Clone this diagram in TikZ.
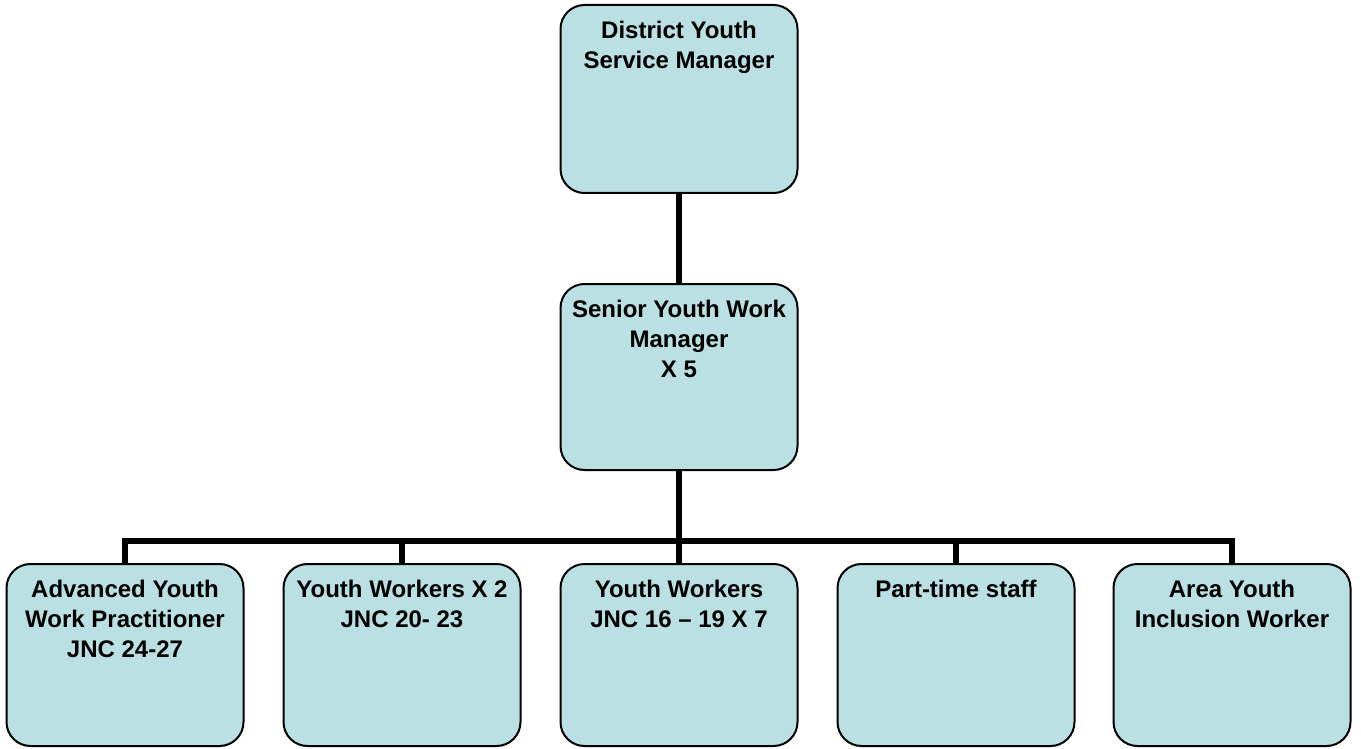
\documentclass[tikz,border=0pt]{standalone}
\usepackage{fontspec}
\setmainfont{Liberation Sans}
\definecolor{boxfill}{RGB}{187,224,227}
\tikzset{
  post/.style={draw=black, line width=1pt, fill=boxfill, rounded corners=12pt,
    minimum width=118.5pt, inner xsep=3pt, inner ysep=8pt,
    font=\fontsize{12}{15}\selectfont\bfseries,
    execute at begin node={\begin{minipage}[c][#1][t]{112pt}\centering},
    execute at end node={\end{minipage}}},
  link/.style={line width=2.6pt}
}
\begin{document}
\begin{tikzpicture}[x=0.5pt,y=-0.5pt]
\useasboundingbox (0,0) rectangle (1361,749);
% top of the chart
\node[post=78pt] (dysm) at (679,99) {District Youth\\Service Manager};
\node[post=77pt] (sywm) at (679,377) {Senior Youth Work\\Manager\\X 5};
% bottom row
\node[post=75pt] (aywp) at (125,655) {Advanced Youth\\Work Practitioner\\JNC 24-27};
\node[post=75pt] (ywa) at (402,655) {Youth Workers X 2\\JNC 20- 23};
\node[post=75pt] (ywb) at (679,655) {Youth Workers\\JNC 16 -- 19 X 7};
\node[post=75pt] (pts) at (956,655) {Part-time staff};
\node[post=75pt] (ayiw) at (1232,655) {Area Youth\\Inclusion Worker};
\coordinate (bus) at (679,541);
% connectors
\draw[link] (dysm.south) -- (sywm.north);
\draw[link] (sywm.south) -- (ywb.north);
\draw[link] (aywp.north) |- (bus) -| (ayiw.north);
\draw[link] (bus -| ywa.north) -- (ywa.north);
\draw[link] (bus -| pts.north) -- (pts.north);
\end{tikzpicture}
\end{document}
